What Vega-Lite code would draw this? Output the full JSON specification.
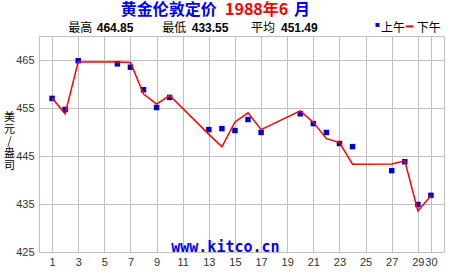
{
  "$schema": "https://vega.github.io/schema/vega-lite/v6.json",
  "width": 405,
  "height": 216,
  "autosize": "none",
  "padding": {"left": 39, "top": 36, "right": 6, "bottom": 23},
  "background": "white",
  "config": {
    "view": {"stroke": "#c0c0c0", "strokeWidth": 1},
    "axis": {"gridColor": "#c0c0c0", "gridWidth": 1, "gridOpacity": 1, "domain": false, "ticks": false, "labelFont": "Liberation Sans", "labelFontSize": 11, "labelColor": "#333333"},
    "axisX": {"labelOverlap": false, "labelFlush": false, "labelPadding": 4},
    "axisY": {"labelOverlap": false, "labelPadding": 5}
  },
  "datasets": {
    "prices": [
      {"day": 1, "session": "上午", "price": 457.0}, {"day": 2, "session": "上午", "price": 454.7}, {"day": 3, "session": "上午", "price": 464.85},
      {"day": 6, "session": "上午", "price": 464.2}, {"day": 7, "session": "上午", "price": 463.5}, {"day": 8, "session": "上午", "price": 458.8},
      {"day": 9, "session": "上午", "price": 455.1}, {"day": 10, "session": "上午", "price": 457.2}, {"day": 13, "session": "上午", "price": 450.5},
      {"day": 14, "session": "上午", "price": 450.7}, {"day": 15, "session": "上午", "price": 450.3}, {"day": 16, "session": "上午", "price": 452.6},
      {"day": 17, "session": "上午", "price": 449.9}, {"day": 20, "session": "上午", "price": 453.8}, {"day": 21, "session": "上午", "price": 451.75},
      {"day": 22, "session": "上午", "price": 449.9}, {"day": 23, "session": "上午", "price": 447.6}, {"day": 24, "session": "上午", "price": 446.95},
      {"day": 27, "session": "上午", "price": 441.95}, {"day": 28, "session": "上午", "price": 443.8}, {"day": 29, "session": "上午", "price": 434.9},
      {"day": 30, "session": "上午", "price": 436.8},
      {"day": 1, "session": "下午", "price": 457.1}, {"day": 2, "session": "下午", "price": 453.8}, {"day": 3, "session": "下午", "price": 464.6},
      {"day": 6, "session": "下午", "price": 464.6}, {"day": 7, "session": "下午", "price": 464.5}, {"day": 8, "session": "下午", "price": 457.9},
      {"day": 9, "session": "下午", "price": 455.8}, {"day": 10, "session": "下午", "price": 457.6}, {"day": 13, "session": "下午", "price": 449.5},
      {"day": 14, "session": "下午", "price": 446.9}, {"day": 15, "session": "下午", "price": 452.1}, {"day": 16, "session": "下午", "price": 454.0},
      {"day": 17, "session": "下午", "price": 450.5}, {"day": 20, "session": "下午", "price": 454.4}, {"day": 21, "session": "下午", "price": 452.0},
      {"day": 22, "session": "下午", "price": 448.6}, {"day": 23, "session": "下午", "price": 447.8}, {"day": 24, "session": "下午", "price": 443.3},
      {"day": 27, "session": "下午", "price": 443.35}, {"day": 28, "session": "下午", "price": 444.0}, {"day": 29, "session": "下午", "price": 433.55},
      {"day": 30, "session": "下午", "price": 436.7}
    ]
  },
  "layer": [
    {
      "data": {"name": "prices"},
      "transform": [{"filter": "datum.session == '上午'"}],
      "mark": {"type": "square", "size": 30, "color": "#0000cc", "opacity": 1},
      "encoding": {
        "x": {"field": "day", "type": "quantitative", "scale": {"domain": [0, 31], "nice": false, "zero": false},
          "axis": {"title": null, "values": [1,3,5,7,9,11,13,15,17,19,21,23,25,27,29,30], "labelOverlap": false}},
        "y": {"field": "price", "type": "quantitative", "scale": {"domain": [425, 470], "nice": false, "zero": false},
          "axis": {"values": [425,430,435,440,445,450,455,460,465,470], "labelExpr": "(datum.value - 425) % 10 == 0 ? datum.label : ''",
            "title": ["美","元","/","盎","司"], "titleAngle": 0, "titleX": -30, "titleY": 75, "titleAlign": "center", "titleBaseline": "top",
            "titleFont": "Noto Sans CJK SC", "titleFontSize": 11, "titleFontWeight": "normal", "titleLineHeight": 12, "titleColor": "black"}}
      }
    },
    {
      "data": {"name": "prices"},
      "transform": [{"filter": "datum.session == '下午'"}],
      "mark": {"type": "line", "color": "#ff0000", "strokeWidth": 1.5},
      "encoding": {
        "x": {"field": "day", "type": "quantitative", "scale": {"domain": [0, 31], "nice": false, "zero": false},
          "axis": {"title": null, "values": [1,3,5,7,9,11,13,15,17,19,21,23,25,27,29,30], "labelOverlap": false}},
        "y": {"field": "price", "type": "quantitative", "scale": {"domain": [425, 470], "nice": false, "zero": false},
          "axis": {"values": [425,430,435,440,445,450,455,460,465,470], "labelExpr": "(datum.value - 425) % 10 == 0 ? datum.label : ''",
            "title": ["美","元","/","盎","司"], "titleAngle": 0, "titleX": -30, "titleY": 75, "titleAlign": "center", "titleBaseline": "top",
            "titleFont": "Noto Sans CJK SC", "titleFontSize": 11, "titleFontWeight": "normal", "titleLineHeight": 12, "titleColor": "black"}}
      }
    },
    {
      "data": {"values": [{"t": "黄金伦敦定价"}]},
      "mark": {"type": "text", "align": "left", "baseline": "middle", "font": "Noto Sans CJK SC", "fontSize": 16, "fontWeight": "bold", "color": "#0000ee"},
      "encoding": {"text": {"field": "t"}, "x": {"datum": 6.25, "type": "quantitative", "scale": {"domain": [0, 31], "nice": false, "zero": false}, "axis": {"title": null, "values": [1,3,5,7,9,11,13,15,17,19,21,23,25,27,29,30], "labelOverlap": false}}, "y": {"datum": 475.4, "type": "quantitative", "scale": {"domain": [425, 470], "nice": false, "zero": false}}}
    },
    {
      "data": {"values": [{"t": "1988年6"}]},
      "mark": {"type": "text", "align": "left", "baseline": "middle", "font": "Noto Sans CJK SC", "fontSize": 16, "fontWeight": "bold", "color": "#ff0000"},
      "encoding": {"text": {"field": "t"}, "x": {"datum": 14.24, "type": "quantitative", "scale": {"domain": [0, 31], "nice": false, "zero": false}, "axis": {"title": null, "values": [1,3,5,7,9,11,13,15,17,19,21,23,25,27,29,30], "labelOverlap": false}}, "y": {"datum": 475.4, "type": "quantitative", "scale": {"domain": [425, 470], "nice": false, "zero": false}}}
    },
    {
      "data": {"values": [{"t": "月"}]},
      "mark": {"type": "text", "align": "left", "baseline": "middle", "font": "Noto Sans CJK SC", "fontSize": 16, "fontWeight": "bold", "color": "#0000ee"},
      "encoding": {"text": {"field": "t"}, "x": {"datum": 19.52, "type": "quantitative", "scale": {"domain": [0, 31], "nice": false, "zero": false}, "axis": {"title": null, "values": [1,3,5,7,9,11,13,15,17,19,21,23,25,27,29,30], "labelOverlap": false}}, "y": {"datum": 475.4, "type": "quantitative", "scale": {"domain": [425, 470], "nice": false, "zero": false}}}
    },
    {
      "data": {"values": [{"t": "最高"}]},
      "mark": {"type": "text", "align": "left", "baseline": "middle", "font": "Noto Sans CJK SC", "fontSize": 12, "color": "black"},
      "encoding": {"text": {"field": "t"}, "x": {"datum": 2.24, "type": "quantitative", "scale": {"domain": [0, 31], "nice": false, "zero": false}, "axis": {"title": null, "values": [1,3,5,7,9,11,13,15,17,19,21,23,25,27,29,30], "labelOverlap": false}}, "y": {"datum": 471.7, "type": "quantitative", "scale": {"domain": [425, 470], "nice": false, "zero": false}}}
    },
    {
      "data": {"values": [{"t": "464.85"}]},
      "mark": {"type": "text", "align": "left", "baseline": "middle", "font": "Liberation Sans", "fontSize": 12, "fontWeight": "bold", "color": "black"},
      "encoding": {"text": {"field": "t"}, "x": {"datum": 4.42, "type": "quantitative", "scale": {"domain": [0, 31], "nice": false, "zero": false}, "axis": {"title": null, "values": [1,3,5,7,9,11,13,15,17,19,21,23,25,27,29,30], "labelOverlap": false}}, "y": {"datum": 471.7, "type": "quantitative", "scale": {"domain": [425, 470], "nice": false, "zero": false}}}
    },
    {
      "data": {"values": [{"t": "最低"}]},
      "mark": {"type": "text", "align": "left", "baseline": "middle", "font": "Noto Sans CJK SC", "fontSize": 12, "color": "black"},
      "encoding": {"text": {"field": "t"}, "x": {"datum": 9.44, "type": "quantitative", "scale": {"domain": [0, 31], "nice": false, "zero": false}, "axis": {"title": null, "values": [1,3,5,7,9,11,13,15,17,19,21,23,25,27,29,30], "labelOverlap": false}}, "y": {"datum": 471.7, "type": "quantitative", "scale": {"domain": [425, 470], "nice": false, "zero": false}}}
    },
    {
      "data": {"values": [{"t": "433.55"}]},
      "mark": {"type": "text", "align": "left", "baseline": "middle", "font": "Liberation Sans", "fontSize": 12, "fontWeight": "bold", "color": "black"},
      "encoding": {"text": {"field": "t"}, "x": {"datum": 11.69, "type": "quantitative", "scale": {"domain": [0, 31], "nice": false, "zero": false}, "axis": {"title": null, "values": [1,3,5,7,9,11,13,15,17,19,21,23,25,27,29,30], "labelOverlap": false}}, "y": {"datum": 471.7, "type": "quantitative", "scale": {"domain": [425, 470], "nice": false, "zero": false}}}
    },
    {
      "data": {"values": [{"t": "平均"}]},
      "mark": {"type": "text", "align": "left", "baseline": "middle", "font": "Noto Sans CJK SC", "fontSize": 12, "color": "black"},
      "encoding": {"text": {"field": "t"}, "x": {"datum": 16.23, "type": "quantitative", "scale": {"domain": [0, 31], "nice": false, "zero": false}, "axis": {"title": null, "values": [1,3,5,7,9,11,13,15,17,19,21,23,25,27,29,30], "labelOverlap": false}}, "y": {"datum": 471.7, "type": "quantitative", "scale": {"domain": [425, 470], "nice": false, "zero": false}}}
    },
    {
      "data": {"values": [{"t": "451.49"}]},
      "mark": {"type": "text", "align": "left", "baseline": "middle", "font": "Liberation Sans", "fontSize": 12, "fontWeight": "bold", "color": "black"},
      "encoding": {"text": {"field": "t"}, "x": {"datum": 18.52, "type": "quantitative", "scale": {"domain": [0, 31], "nice": false, "zero": false}, "axis": {"title": null, "values": [1,3,5,7,9,11,13,15,17,19,21,23,25,27,29,30], "labelOverlap": false}}, "y": {"datum": 471.7, "type": "quantitative", "scale": {"domain": [425, 470], "nice": false, "zero": false}}}
    },
    {
      "data": {"values": [{"session": "上午"}]},
      "mark": {"type": "square", "size": 16, "color": "#0000ff", "opacity": 1},
      "encoding": {"x": {"datum": 25.91, "type": "quantitative", "scale": {"domain": [0, 31], "nice": false, "zero": false}, "axis": {"title": null, "values": [1,3,5,7,9,11,13,15,17,19,21,23,25,27,29,30], "labelOverlap": false}}, "y": {"datum": 472.3, "type": "quantitative", "scale": {"domain": [425, 470], "nice": false, "zero": false}}}
    },
    {
      "data": {"values": [{"t": "上午"}]},
      "mark": {"type": "text", "align": "left", "baseline": "middle", "font": "Noto Sans CJK SC", "fontSize": 12, "color": "black"},
      "encoding": {"text": {"field": "t"}, "x": {"datum": 26.18, "type": "quantitative", "scale": {"domain": [0, 31], "nice": false, "zero": false}, "axis": {"title": null, "values": [1,3,5,7,9,11,13,15,17,19,21,23,25,27,29,30], "labelOverlap": false}}, "y": {"datum": 471.7, "type": "quantitative", "scale": {"domain": [425, 470], "nice": false, "zero": false}}}
    },
    {
      "data": {"values": [{"session": "下午"}]},
      "mark": {"type": "rule", "color": "#ff0000", "strokeWidth": 2},
      "encoding": {"x": {"datum": 28.07, "type": "quantitative", "scale": {"domain": [0, 31], "nice": false, "zero": false}, "axis": {"title": null, "values": [1,3,5,7,9,11,13,15,17,19,21,23,25,27,29,30], "labelOverlap": false}}, "x2": {"datum": 28.65}, "y": {"datum": 472.0, "type": "quantitative", "scale": {"domain": [425, 470], "nice": false, "zero": false}}}
    },
    {
      "data": {"values": [{"t": "下午"}]},
      "mark": {"type": "text", "align": "left", "baseline": "middle", "font": "Noto Sans CJK SC", "fontSize": 12, "color": "black"},
      "encoding": {"text": {"field": "t"}, "x": {"datum": 28.91, "type": "quantitative", "scale": {"domain": [0, 31], "nice": false, "zero": false}, "axis": {"title": null, "values": [1,3,5,7,9,11,13,15,17,19,21,23,25,27,29,30], "labelOverlap": false}}, "y": {"datum": 471.7, "type": "quantitative", "scale": {"domain": [425, 470], "nice": false, "zero": false}}}
    },
    {
      "data": {"values": [{"t": "www.kitco.cn"}]},
      "mark": {"type": "text", "align": "center", "baseline": "middle", "font": "DejaVu Sans Mono", "fontSize": 15, "fontWeight": "bold", "color": "#0000ff"},
      "encoding": {"text": {"field": "t"}, "x": {"datum": 14.27, "type": "quantitative", "scale": {"domain": [0, 31], "nice": false, "zero": false}, "axis": {"title": null, "values": [1,3,5,7,9,11,13,15,17,19,21,23,25,27,29,30], "labelOverlap": false}}, "y": {"datum": 426.1, "type": "quantitative", "scale": {"domain": [425, 470], "nice": false, "zero": false}}}
    }
  ]
}
